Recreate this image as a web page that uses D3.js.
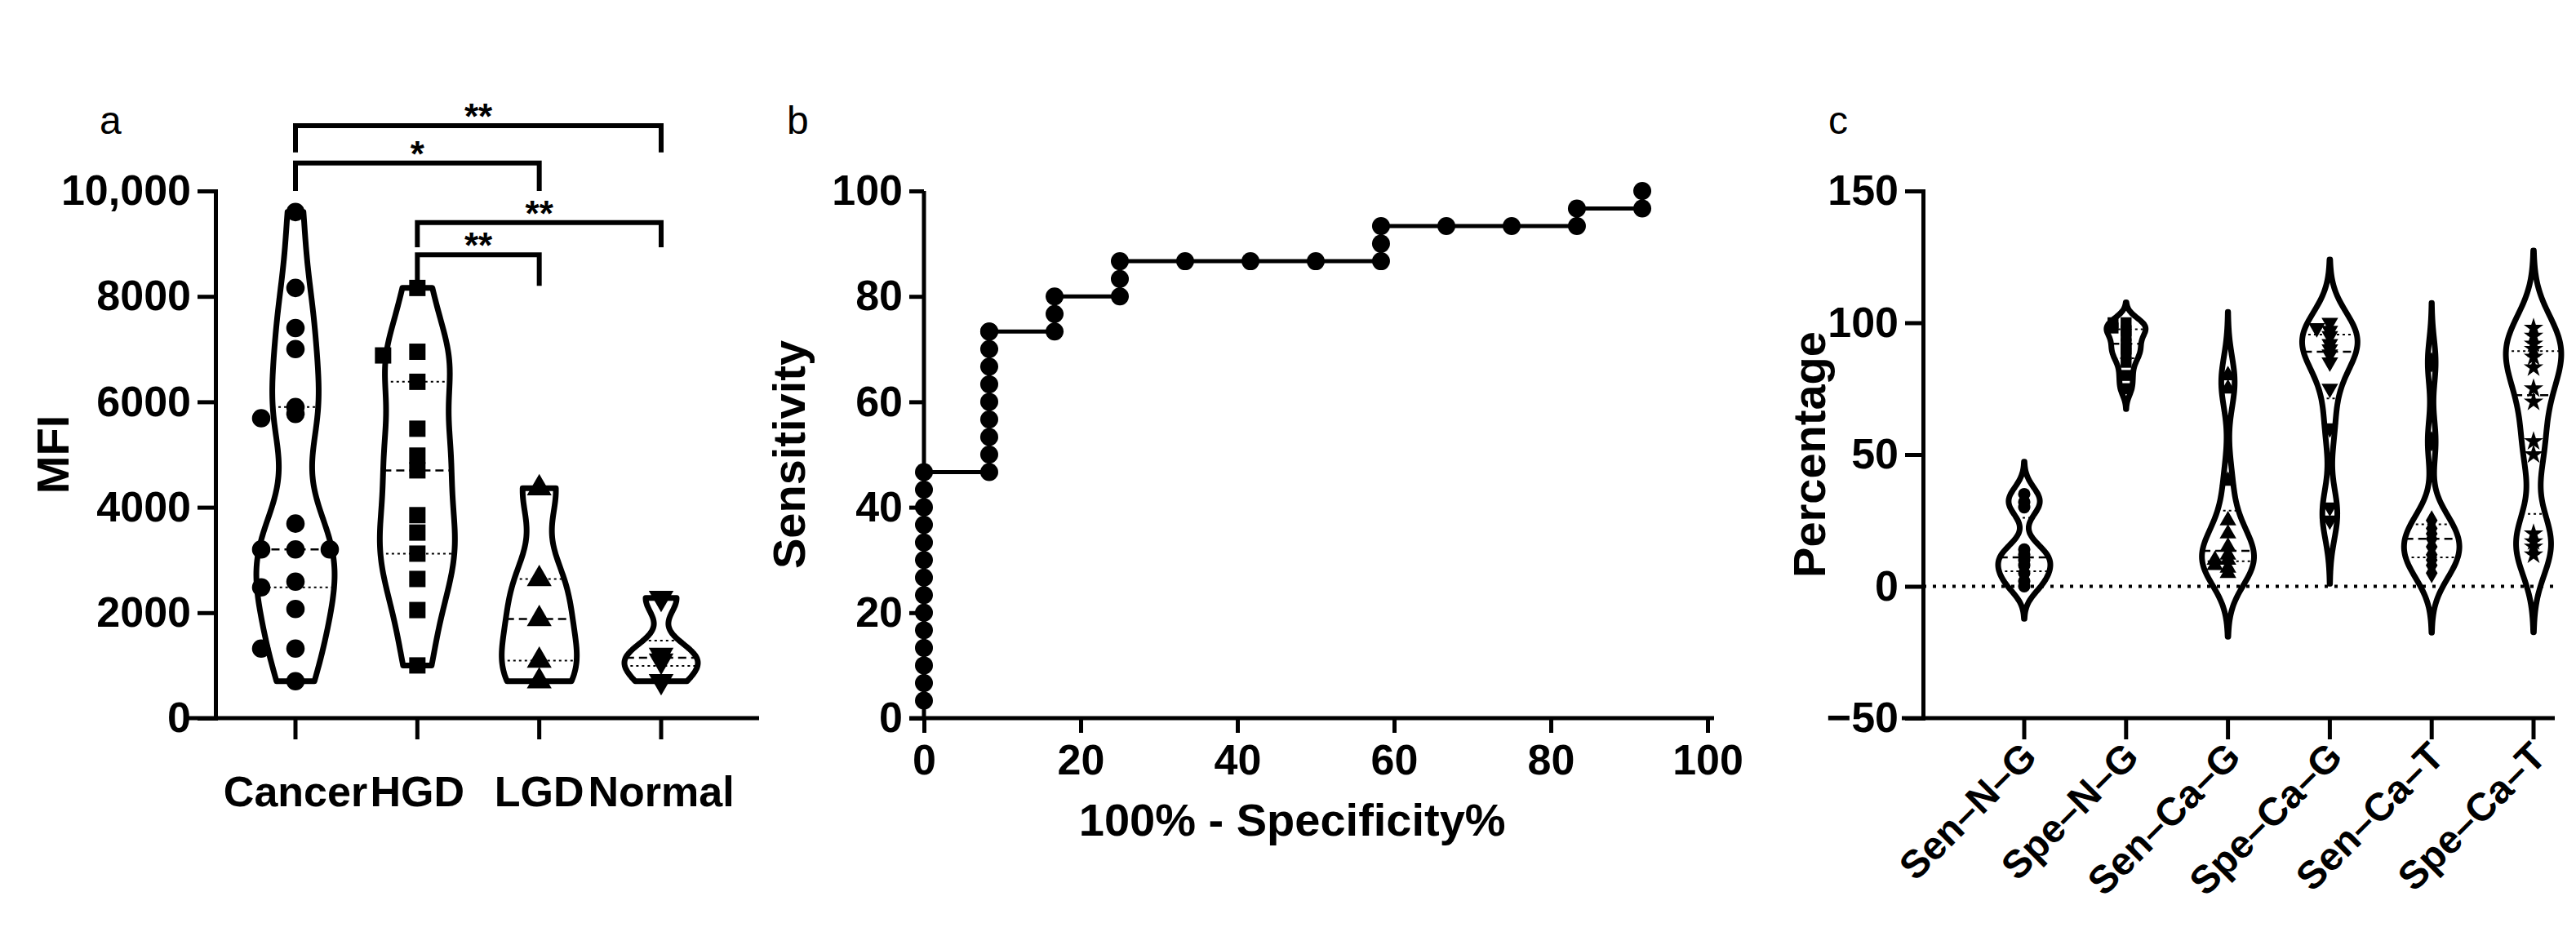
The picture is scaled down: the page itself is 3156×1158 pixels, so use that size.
<!DOCTYPE html>
<html><head><meta charset="utf-8">
<script src="https://cdn.jsdelivr.net/npm/d3@7"></script>
<style>
body{margin:0;background:#fff;}
text{font-family:"Liberation Sans",Arial,sans-serif;}
</style></head>
<body><svg id="chart" width="3156" height="1158"></svg>
<script>
// ---- panel a data ----
const groupsA = ["Cancer", "HGD", "LGD", "Normal"];
const cancerMFI = [9600, 8160, 7400, 7000, 5770, 5690, 5900, 3690, 3200, 3200, 3200, 2590, 2480, 2070, 1320, 1320, 700];
const hgdMFI = [8160, 6950, 6880, 6380, 5490, 4980, 4700, 3850, 3520, 3120, 2640, 2050, 1000];
const lgdMFI = [4360, 2640, 1880, 1090, 700];
const normalMFI = [2280, 1200, 1090, 700];
const ticksA = [0, 2000, 4000, 6000, 8000, 10000];
const tickLabelsA = ["0", "2000", "4000", "6000", "8000", "10,000"];
const brackets = [
  { from: "Cancer", to: "Normal", y: 11240, legL: 10730, legR: 10730, label: "**" },
  { from: "Cancer", to: "LGD", y: 10530, legL: 10000, legR: 10000, label: "*" },
  { from: "HGD", to: "Normal", y: 9400, legL: 8930, legR: 8930, label: "**" },
  { from: "HGD", to: "LGD", y: 8790, legL: 8200, legR: 8200, label: "**" }
];

// ---- panel b data (ROC) ----
const rocX = [0,0,0,0,0,0,0,0,0,0,0,0,0,0, 8.33,8.33,8.33,8.33,8.33,8.33,8.33,8.33,8.33,8.33, 16.67,16.67,16.67, 25,25,25, 33.33, 41.67, 50, 58.33,58.33,58.33, 66.67, 75, 83.33,83.33, 91.67,91.67];
const rocY = [3.33,6.67,10,13.33,16.67,20,23.33,26.67,30,33.33,36.67,40,43.33,46.67, 46.67,50,53.33,56.67,60,63.33,66.67,70,73.33,73.33, 73.33,76.67,80, 80,83.33,86.67, 86.67, 86.67, 86.67, 86.67,90,93.33, 93.33, 93.33, 93.33,96.67, 96.67,100];

// ---- panel c data ----
const groupsC = ["Sen\u2013N\u2013G", "Spe\u2013N\u2013G", "Sen\u2013Ca\u2013G", "Spe\u2013Ca\u2013G", "Sen\u2013Ca\u2013T", "Spe\u2013Ca\u2013T"];
const senNG = [0, 2, 5, 8, 10, 12, 14, 30, 32, 35];
const speNG = [75, 80, 85, 88, 90, 92, 95, 97, 98, 100, 100];
const senCaG = [5, 7, 8, 10, 10, 12, 15, 20, 25, 40, 75, 80];
const speCaG = [25, 30, 60, 75, 85, 88, 90, 92, 95, 97, 98, 100];
const senCaT = [5, 8, 10, 12, 15, 18, 20, 22, 25, 55, 85];
const speCaT = [12, 15, 17, 20, 50, 55, 70, 75, 83, 87, 90, 92, 95, 98];
const ticksC = [-50, 0, 50, 100, 150];

const svg = d3.select("#chart");
const SW = 7;
const TICK_FS = 52, TITLE_FS = 56, CAT_FS = 52;

function kde(values, lo, hi, h) {
  const grid = d3.range(lo, hi + 1e-9, (hi - lo) / 80);
  return grid.map(t => [t, d3.mean(values, v => Math.exp(-0.5 * ((t - v) / h) ** 2))]);
}

function drawViolin(g, vals, cx, y, half, truncate, bwScale) {
  const s = d3.deviation(vals) || 1;
  const h = Math.max(1.06 * s * Math.pow(vals.length, -0.2) * bwScale, 1e-6);
  const lo = truncate ? d3.min(vals) : d3.min(vals) - 2.6 * h;
  const hi = truncate ? d3.max(vals) : d3.max(vals) + 2.6 * h;
  const dens = kde(vals, lo, hi, h);
  const w = d3.scaleLinear().domain([0, d3.max(dens, d => d[1])]).range([0, half]);
  const area = d3.area().curve(d3.curveBasis)
    .y(d => y(d[0])).x0(d => cx - w(d[1])).x1(d => cx + w(d[1]));
  g.append("path").datum(dens).attr("d", area)
    .attr("fill", "none").attr("stroke", "#000").attr("stroke-width", SW).attr("stroke-linejoin", "round");
  const sorted = vals.slice().sort(d3.ascending);
  const wAt = v => { const d = dens.reduce((a, b) => Math.abs(b[0] - v) < Math.abs(a[0] - v) ? b : a); return w(d[1]); };
  [[0.5, "10,6", 2.5], [0.25, "3,4", 2], [0.75, "3,4", 2]].forEach(([q, dash, sw]) => {
    const v = d3.quantile(sorted, q), ww = wAt(v);
    g.append("line").attr("x1", cx - ww).attr("x2", cx + ww).attr("y1", y(v)).attr("y2", y(v))
      .attr("stroke", "#000").attr("stroke-width", sw).attr("stroke-dasharray", dash);
  });
}

function drawPoints(g, vals, cx, y, shape, size, spread) {
  // spread points sharing similar values sideways (deterministic)
  const counts = {};
  vals.forEach(v => {
    const k = Math.round(v / spread.bin);
    const n = counts[k] = (counts[k] || 0) + 1;
    const off = n === 1 ? 0 : (n % 2 === 0 ? -1 : 1) * Math.ceil((n - 1) / 2) * spread.dx;
    g.append("path").attr("d", d3.symbol().type(shape).size(size)())
      .attr("transform", `translate(${cx + off},${y(v)})${shape === d3.symbolTriangle && spread.down ? " rotate(180)" : ""}`)
      .attr("fill", "#000");
  });
}

function styleAxis(g, fs) {
  g.selectAll(".domain").attr("stroke-width", 5);
  g.selectAll(".tick line").attr("stroke-width", 5);
  g.selectAll(".tick text").attr("font-size", fs).attr("font-weight", "bold");
}

// ================= panel a =================
const yA = d3.scaleLinear().domain([0, 10000]).range([880, 234]);
const xA = d3.scalePoint().domain(groupsA).range([362, 810]);
const gA = svg.append("g");
gA.append("g").attr("transform", "translate(264,0)")
  .call(d3.axisLeft(yA).tickValues(ticksA).tickFormat((d, i) => tickLabelsA[i]).tickSize(22).tickPadding(8))
  .call(g => styleAxis(g, TICK_FS));
gA.append("line").attr("x1", 230).attr("x2", 930).attr("y1", 880).attr("y2", 880).attr("stroke", "#000").attr("stroke-width", 5);
groupsA.forEach(gr => gA.append("line").attr("x1", xA(gr)).attr("x2", xA(gr)).attr("y1", 880).attr("y2", 906).attr("stroke", "#000").attr("stroke-width", 5));
gA.selectAll(".xl").data(groupsA).join("text").attr("x", d => xA(d)).attr("y", 988)
  .attr("text-anchor", "middle").attr("font-size", CAT_FS).attr("font-weight", "bold").text(d => d);
gA.append("text").attr("transform", "translate(84,557) rotate(-90)").attr("text-anchor", "middle")
  .attr("font-size", TITLE_FS).attr("font-weight", "bold").text("MFI");
gA.append("text").attr("x", 122).attr("y", 164).attr("font-size", 48).text("a");

const dataA = [cancerMFI, hgdMFI, lgdMFI, normalMFI];
const shapesA = [d3.symbolCircle, d3.symbolSquare, d3.symbolTriangle, d3.symbolTriangle];
const halfA = [48, 46, 46, 45];
dataA.forEach((vals, i) => {
  drawViolin(gA, vals, xA(groupsA[i]), yA, halfA[i], true, 0.55);
  drawPoints(gA, vals, xA(groupsA[i]), yA, shapesA[i], 400, { bin: 150, dx: 42, down: i === 3 });
});
brackets.forEach(b => {
  const x1 = xA(b.from), x2 = xA(b.to);
  gA.append("path").attr("d", `M${x1},${yA(b.legL)}V${yA(b.y)}H${x2}V${yA(b.legR)}`)
    .attr("fill", "none").attr("stroke", "#000").attr("stroke-width", 6);
  gA.append("text").attr("x", (x1 + x2) / 2).attr("y", yA(b.y) + 4).attr("text-anchor", "middle")
    .attr("font-size", 44).attr("font-weight", "bold").text(b.label);
});

// ================= panel b =================
const xB = d3.scaleLinear().domain([0, 100]).range([1132, 2092]);
const yB = d3.scaleLinear().domain([0, 100]).range([880, 234]);
const gB = svg.append("g");
gB.append("g").attr("transform", "translate(1132,0)")
  .call(d3.axisLeft(yB).tickValues([0, 20, 40, 60, 80, 100]).tickSize(18).tickPadding(8))
  .call(g => styleAxis(g, TICK_FS));
gB.append("g").attr("transform", "translate(0,880)")
  .call(d3.axisBottom(xB).tickValues([0, 20, 40, 60, 80, 100]).tickSize(18).tickPadding(14))
  .call(g => styleAxis(g, TICK_FS));
gB.selectAll(".domain").attr("d", null);
gB.append("line").attr("x1", 1132).attr("x2", 1132).attr("y1", 234).attr("y2", 880).attr("stroke", "#000").attr("stroke-width", 5);
gB.append("line").attr("x1", 1114).attr("x2", 2100).attr("y1", 880).attr("y2", 880).attr("stroke", "#000").attr("stroke-width", 5);
const roc = rocX.map((x, i) => [x, rocY[i]]);
gB.append("path").datum(roc).attr("d", d3.line().x(d => xB(d[0])).y(d => yB(d[1])))
  .attr("fill", "none").attr("stroke", "#000").attr("stroke-width", 5);
gB.selectAll(".pt").data(roc).join("circle").attr("cx", d => xB(d[0])).attr("cy", d => yB(d[1])).attr("r", 11).attr("fill", "#000");
gB.append("text").attr("x", xB(47)).attr("y", 1024).attr("text-anchor", "middle")
  .attr("font-size", TITLE_FS).attr("font-weight", "bold").text("100% - Specificity%");
gB.append("text").attr("transform", "translate(986,557) rotate(-90)").attr("text-anchor", "middle")
  .attr("font-size", TITLE_FS).attr("font-weight", "bold").text("Sensitivity");
gB.append("text").attr("x", 964).attr("y", 164).attr("font-size", 48).text("b");

// ================= panel c =================
const yC = d3.scaleLinear().domain([-50, 150]).range([880, 234]);
const xC = d3.scalePoint().domain(groupsC).range([2480, 3104]);
const gC = svg.append("g");
gC.append("g").attr("transform", "translate(2356,0)")
  .call(d3.axisLeft(yC).tickValues(ticksC).tickSize(22).tickPadding(8))
  .call(g => styleAxis(g, TICK_FS));
gC.append("line").attr("x1", 2330).attr("x2", 3130).attr("y1", 880).attr("y2", 880).attr("stroke", "#000").attr("stroke-width", 5);
gC.append("line").attr("x1", 2356).attr("x2", 3130).attr("y1", yC(0)).attr("y2", yC(0))
  .attr("stroke", "#000").attr("stroke-width", 4).attr("stroke-dasharray", "4,8");
groupsC.forEach(gr => gC.append("line").attr("x1", xC(gr)).attr("x2", xC(gr)).attr("y1", 880).attr("y2", 906).attr("stroke", "#000").attr("stroke-width", 5));
gC.selectAll(".xl").data(groupsC).join("text")
  .attr("transform", d => `translate(${xC(d) + 18},${930}) rotate(-45)`)
  .attr("text-anchor", "end").attr("font-size", 48).attr("font-weight", "bold").text(d => d);
gC.append("text").attr("transform", "translate(2236,557) rotate(-90)").attr("text-anchor", "middle")
  .attr("font-size", TITLE_FS).attr("font-weight", "bold").text("Percentage");
gC.append("text").attr("x", 2240).attr("y", 164).attr("font-size", 48).text("c");

const dataC = [senNG, speNG, senCaG, speCaG, senCaT, speCaT];
const shapesC = [d3.symbolCircle, d3.symbolSquare, d3.symbolTriangle, d3.symbolTriangle, d3.symbolDiamond, d3.symbolStar];
const halfC = [32, 24, 32, 34, 34, 34];
dataC.forEach((vals, i) => {
  drawViolin(gC, vals, xC(groupsC[i]), yC, halfC[i], false, 0.55);
  drawPoints(gC, vals, xC(groupsC[i]), yC, shapesC[i], 180, { bin: 2.5, dx: 16, down: i === 3 });
});
</script>
</body></html>
